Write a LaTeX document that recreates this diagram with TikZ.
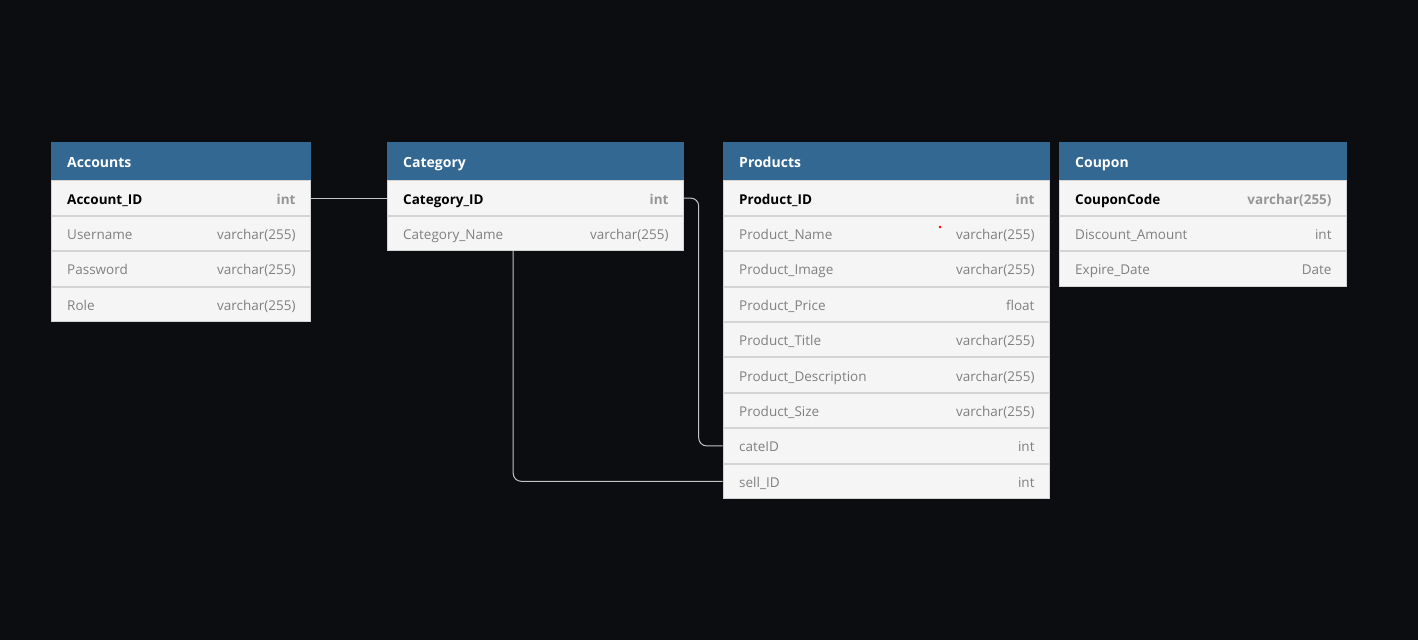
\documentclass[tikz,border=0pt]{standalone}
\usepackage{fontspec}
\setmainfont{Open Sans}
\usetikzlibrary{positioning}
\definecolor{canvas}{RGB}{12,13,16}
\definecolor{headblue}{RGB}{50,104,146}
\definecolor{rowfill}{RGB}{245,245,245}
\definecolor{rowline}{RGB}{212,212,212}
\definecolor{fieldgray}{RGB}{128,128,128}
\definecolor{typegray}{RGB}{150,150,150}
\definecolor{linkgray}{RGB}{196,196,196}
\tikzset{
		tblhead/.style={fill=headblue, draw=headblue, text=white, font=\fontsize{14}{16}\selectfont\bfseries,
			minimum height=38pt, inner xsep=16pt, inner ysep=0pt, text height=12pt, text depth=0pt,
			align=left, anchor=north west},
		tblrow/.style={fill=rowfill, draw=rowline, line width=1pt, text=fieldgray, font=\fontsize{13.5}{16}\selectfont,
			minimum height=34.4pt, inner xsep=16pt, inner ysep=0pt, text height=12pt, text depth=0pt, align=left},
		keyrow/.style={tblrow, text=black, font=\fontsize{13.5}{16}\selectfont\bfseries},
		typelbl/.style={anchor=east, inner sep=0pt, text height=12pt, text depth=0pt, text=fieldgray,
			font=\fontsize{13.5}{16}\selectfont},
		keytype/.style={typelbl, text=typegray, font=\fontsize{13.5}{16}\selectfont\bfseries},
		link/.style={draw=linkgray, line width=1pt, rounded corners=8pt},
		}
\begin{document}
\begin{tikzpicture}[x=1pt,y=-1pt,node distance=0pt,label distance=-15pt]
					\useasboundingbox[fill=canvas] (0,0) rectangle (1418,640);
					%ACCOUNTS
					\node[tblhead, text width=227pt](acc) at (51,142){Accounts};
					\node[keyrow, text width=227pt, label={[keytype]east:int}](accid)[below=of acc]{Account\_ID};
					\node[tblrow, text width=227pt, label={[typelbl]east:varchar(255)}](accuser)[below=of accid]{Username};
					\node[tblrow, text width=227pt, label={[typelbl]east:varchar(255)}](accpass)[below=of accuser]{Password};
					\node[tblrow, text width=227pt, label={[typelbl]east:varchar(255)}](accrole)[below=of accpass]{Role};
					%CATEGORY
					\node[tblhead, text width=264pt](cat) at (387,142){Category};
					\node[keyrow, text width=264pt, label={[keytype]east:int}](catid)[below=of cat]{Category\_ID};
					\node[tblrow, text width=264pt, label={[typelbl]east:varchar(255)}](catname)[below=of catid]{Category\_Name};
					%PRODUCTS
					\node[tblhead, text width=294pt](prod) at (723,142){Products};
					\node[keyrow, text width=294pt, label={[keytype]east:int}](prodid)[below=of prod]{Product\_ID};
					\node[tblrow, text width=294pt, label={[typelbl]east:varchar(255)}](prodname)[below=of prodid]{Product\_Name};
					\node[tblrow, text width=294pt, label={[typelbl]east:varchar(255)}](prodimg)[below=of prodname]{Product\_Image};
					\node[tblrow, text width=294pt, label={[typelbl]east:float}](prodprice)[below=of prodimg]{Product\_Price};
					\node[tblrow, text width=294pt, label={[typelbl]east:varchar(255)}](prodtitle)[below=of prodprice]{Product\_Title};
					\node[tblrow, text width=294pt, label={[typelbl]east:varchar(255)}](proddesc)[below=of prodtitle]{Product\_Description};
					\node[tblrow, text width=294pt, label={[typelbl]east:varchar(255)}](prodsize)[below=of proddesc]{Product\_Size};
					\node[tblrow, text width=294pt, label={[typelbl]east:int}](prodcate)[below=of prodsize]{cateID};
					\node[tblrow, text width=294pt, label={[typelbl]east:int}](prodsell)[below=of prodcate]{sell\_ID};
					%COUPON
					\node[tblhead, text width=255pt](coup) at (1059,142){Coupon};
					\node[keyrow, text width=255pt, label={[keytype]east:varchar(255)}](coupcode)[below=of coup]{CouponCode};
					\node[tblrow, text width=255pt, label={[typelbl]east:int}](coupamt)[below=of coupcode]{Discount\_Amount};
					\node[tblrow, text width=255pt, label={[typelbl]east:Date}](coupdate)[below=of coupamt]{Expire\_Date};
					%LINKS
					\draw[link] (accid.east) -- (catid.west);
					\draw[link] (catid.east) -- ++(15,0) |- (prodcate.west);
					\draw[link] ([xshift=-22pt]catname.south) |- (prodsell.west);
					\fill[red] (940,227) circle (1.3pt);
				\end{tikzpicture}
\end{document}
